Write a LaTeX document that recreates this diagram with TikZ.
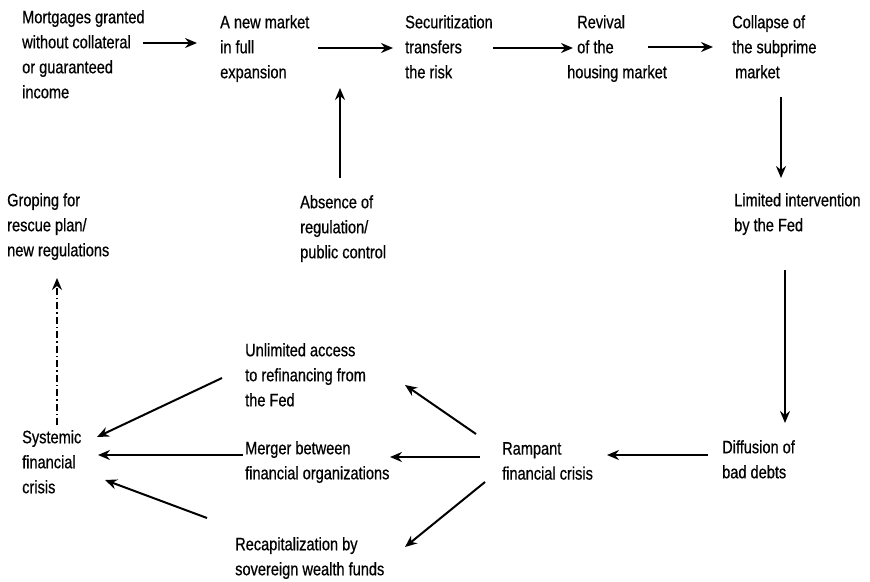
\documentclass[tikz,border=0pt]{standalone}
\usepackage{fontspec}
\setmainfont[FakeStretch=0.81,FakeBold=0.6]{Liberation Sans}
\usetikzlibrary{arrows.meta}

\begin{document}
\begin{tikzpicture}[x=1pt,y=-1pt,
  txt/.style={anchor=north west,inner sep=0pt,align=left,font=\fontsize{18}{25}\selectfont},
  arr/.style={line width=2pt,-{Stealth[length=12pt,width=10pt,inset=4pt]}},
  arrdd/.style={arr,dash pattern=on 7pt off 3pt on 1.5pt off 3pt}]
  \useasboundingbox (0,0) rectangle (870,581);
  \node[txt] (mort) at (22,10) {Mortgages granted\\without collateral\\or guaranteed\\income};
  \node[txt] (newmkt) at (220,15) {A new market\\in full\\expansion};
  \node[txt] (secur) at (405,15) {Securitization\\transfers\\the risk};
  \node[txt] (revival) at (567,15) {\hspace*{10pt}Revival\\\hspace*{10pt}of the\\housing market};
  \node[txt] (collapse) at (732,15) {Collapse of\\the subprime\\\hspace*{3pt}market};
  \node[txt] (limited) at (734,193) {Limited intervention\\by the Fed};
  \node[txt] (absence) at (300,195) {Absence of\\regulation/\\public control};
  \node[txt] (groping) at (7,193) {Groping for\\rescue plan/\\new regulations};
  \node[txt] (diffusion) at (722,440) {Diffusion of\\bad debts};
  \node[txt] (rampant) at (502,442) {Rampant\\financial crisis};
  \node[txt] (unlimited) at (245,343) {Unlimited access\\to refinancing from\\the Fed};
  \node[txt] (merger) at (245,441) {Merger between\\financial organizations};
  \node[txt] (recap) at (235,537) {Recapitalization by\\sovereign wealth funds};
  \node[txt] (systemic) at (22,430) {Systemic\\financial\\crisis};

  \draw[arr] ([shift={(121,33)}]mort.north west) -- ([shift={(-23,28)}]newmkt.north west);
  \draw[arr] ([shift={(98,33)}]newmkt.north west) -- ([shift={(-12,33)}]secur.north west);
  \draw[arr] ([shift={(88,33)}]secur.north west) -- ([shift={(6,33)}]revival.north west);
  \draw[arr] ([shift={(81,32)}]revival.north west) -- ([shift={(-19,32)}]collapse.north west);
  \draw[arr] ([shift={(49,82)}]collapse.north west) -- ([shift={(47,-15)}]limited.north west);
  \draw[arr] ([shift={(51,77)}]limited.north west) -- ([shift={(63,-17)}]diffusion.north west);
  \draw[arr] ([shift={(-14,15)}]diffusion.north west) -- ([shift={(105,13)}]rampant.north west);
  \draw[arr] ([shift={(-26,-8)}]rampant.north west) -- ([shift={(160,42)}]unlimited.north west);
  \draw[arr] ([shift={(-22,15)}]rampant.north west) -- ([shift={(145,16)}]merger.north west);
  \draw[arr] ([shift={(-17,40)}]rampant.north west) -- ([shift={(170,10)}]recap.north west);
  \draw[arr] ([shift={(-23,35)}]unlimited.north west) -- ([shift={(75,7)}]systemic.north west);
  \draw[arr] ([shift={(-2,14)}]merger.north west) -- ([shift={(76,25)}]systemic.north west);
  \draw[arr] ([shift={(-28,-19)}]recap.north west) -- ([shift={(83,50)}]systemic.north west);
  \draw[arr] ([shift={(40,-17)}]absence.north west) -- ([shift={(120,73)}]newmkt.north west);
  \draw[arrdd] ([shift={(35,-5)}]systemic.north west) -- ([shift={(50,85)}]groping.north west);
\end{tikzpicture}
\end{document}
